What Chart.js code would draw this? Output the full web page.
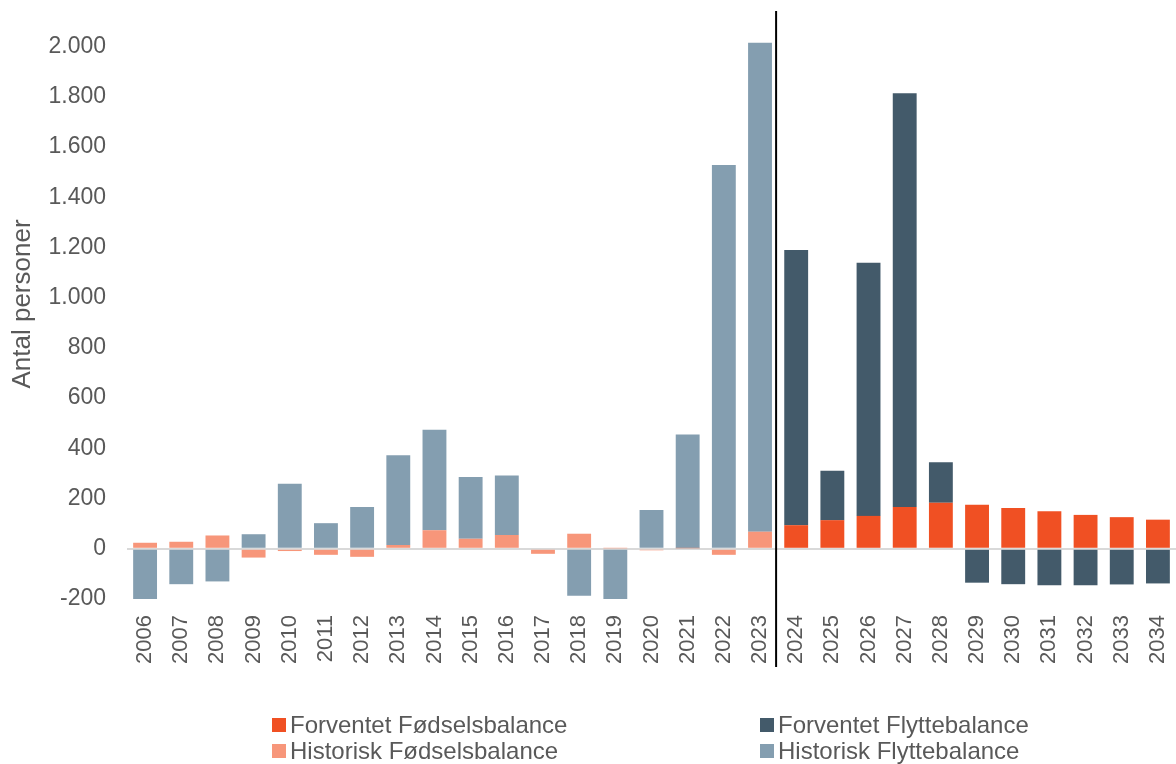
<!DOCTYPE html>
<html>
<head>
<meta charset="utf-8">
<script src="https://cdn.jsdelivr.net/npm/chart.js@4"></script>
<style>
  html, body { margin: 0; padding: 0; background: #fff; }
  #wrap { position: relative; width: 1176px; height: 764px; }
  #legend { position: absolute; left: 0; top: 0; width: 1176px; height: 764px; pointer-events: none; }
  .li { position: absolute; display: flex; align-items: center; font-family: "Liberation Sans", Arial, sans-serif; font-size: 24px; line-height: 26px; color: #595959; white-space: nowrap; }
  .li span.box { display: inline-block; width: 14px; height: 14px; margin-right: 4px; }
</style>
</head>
<body>
<div id="wrap">
  <canvas id="c" width="1176" height="764"></canvas>
  <div id="legend"></div>
</div>
<script>
const years = ['2006','2007','2008','2009','2010','2011','2012','2013','2014','2015','2016','2017','2018','2019','2020','2021','2022','2023','2024','2025','2026','2027','2028','2029','2030','2031','2032','2033','2034'];

const historiskFodsel = [24, 28, 53, -35, -9, -24, -32, 15, 74, 40, 55, -20, 60, 2, -6, 2, -24, 68, null, null, null, null, null, null, null, null, null, null, null];
const historiskFlytte = [-211, -141, -130, 58, 259, 102, 166, 358, 400, 246, 237, 0, -187, -211, 154, 453, 1529, 1948, null, null, null, null, null, null, null, null, null, null, null];
const forventetFodsel = [null, null, null, null, null, null, null, null, null, null, null, null, null, null, null, null, null, null, 94, 114, 131, 166, 183, 175, 162, 150, 135, 126, 116];
const forventetFlytte = [null, null, null, null, null, null, null, null, null, null, null, null, null, null, null, null, null, null, 1096, 197, 1008, 1648, 162, -135, -141, -145, -145, -142, -138];

const yTicks = [-200, 0, 200, 400, 600, 800, 1000, 1200, 1400, 1600, 1800, 2000];

const labelForventetFodsel = 'Forventet Fødselsbalance';
const labelHistoriskFodsel = 'Historisk Fødselsbalance';
const labelForventetFlytte = 'Forventet Flyttebalance';
const labelHistoriskFlytte = 'Historisk Flyttebalance';

const COL = {
  forvFod: '#F05023',
  histFod: '#F7967A',
  forvFly: '#435A6A',
  histFly: '#849EB0'
};

function fmt(v) {
  const neg = v < 0;
  let s = String(Math.abs(v));
  s = s.replace(/\B(?=(\d{3})+(?!\d))/g, '.');
  return (neg ? '-' : '') + s;
}

const FONT = '"Liberation Sans", Arial, sans-serif';

const dividerPlugin = {
  id: 'divider',
  afterDatasetsDraw(chart) {
    const x = chart.scales.x;
    const ctx = chart.ctx;
    const px = (x.getPixelForValue(17) + x.getPixelForValue(18)) / 2 - 2;
    ctx.save();
    ctx.strokeStyle = '#000';
    ctx.lineWidth = 2;
    ctx.beginPath();
    ctx.moveTo(px, chart.chartArea.top + 2);
    ctx.lineTo(px, x.bottom - 2);
    ctx.stroke();
    ctx.restore();
  }
};

const chart = new Chart(document.getElementById('c'), {
  type: 'bar',
  data: {
    labels: years,
    datasets: [
      { label: labelForventetFodsel, data: forventetFodsel, backgroundColor: COL.forvFod },
      { label: labelHistoriskFodsel, data: historiskFodsel, backgroundColor: COL.histFod },
      { label: labelForventetFlytte, data: forventetFlytte, backgroundColor: COL.forvFly },
      { label: labelHistoriskFlytte, data: historiskFlytte, backgroundColor: COL.histFly }
    ]
  },
  options: {
    responsive: false,
    animation: false,
    devicePixelRatio: 1,
    layout: { padding: { top: 9, right: 0, bottom: 95, left: 0 } },
    datasets: { bar: { barPercentage: 0.66, categoryPercentage: 1.0, borderWidth: 0 } },
    plugins: {
      legend: { display: false },
      tooltip: { enabled: false }
    },
    scales: {
      x: {
        stacked: true,
        grid: { display: false, drawTicks: false },
        border: { display: false },
        ticks: {
          minRotation: 90, maxRotation: 90, autoSkip: false,
          padding: 16,
          color: '#595959',
          font: { family: FONT, size: 22 }
        },
        afterFit(scale) { scale.height = 70; scale.paddingLeft = 0; scale.paddingRight = 0; }
      },
      y: {
        stacked: true,
        min: -200,
        max: 2150,
        afterBuildTicks(scale) { scale.ticks = yTicks.map(v => ({ value: v })); },
        grid: {
          drawTicks: false,
          color: (ctx) => (ctx.tick && ctx.tick.value === 0) ? '#D9D9D9' : 'rgba(0,0,0,0)',
          lineWidth: (ctx) => (ctx.tick && ctx.tick.value === 0) ? 2 : 0
        },
        border: { display: false },
        ticks: {
          padding: 21,
          color: '#595959',
          font: { family: FONT, size: 23 },
          callback: (v) => fmt(v)
        },
        title: {
          display: true,
          text: 'Antal personer',
          color: '#595959',
          font: { family: FONT, size: 26 },
          padding: { top: 7, bottom: 0 }
        },
        afterFit(scale) { scale.width = 127; scale.paddingTop = 0; scale.paddingBottom = 0; }
      }
    }
  },
  plugins: [dividerPlugin]
});

// HTML legend in two columns, built from the chart's datasets
const legendEl = document.getElementById('legend');
const positions = [
  { idx: 0, left: 272, top: 712 },
  { idx: 2, left: 760, top: 712 },
  { idx: 1, left: 272, top: 738 },
  { idx: 3, left: 760, top: 738 }
];
positions.forEach(p => {
  const ds = chart.data.datasets[p.idx];
  const div = document.createElement('div');
  div.className = 'li';
  div.style.left = p.left + 'px';
  div.style.top = p.top + 'px';
  const box = document.createElement('span');
  box.className = 'box';
  box.style.background = ds.backgroundColor;
  const txt = document.createElement('span');
  txt.textContent = ds.label;
  div.appendChild(box);
  div.appendChild(txt);
  legendEl.appendChild(div);
});
</script>
</body>
</html>
